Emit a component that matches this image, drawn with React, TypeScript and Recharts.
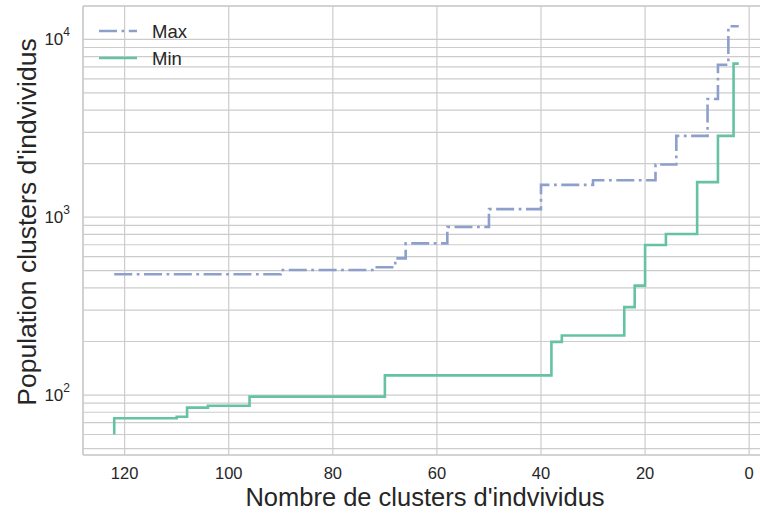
import React from "react";
import { LineChart, Line, XAxis, YAxis, CartesianGrid, ReferenceLine } from "recharts";

// Max series (dash-dot): step change points, x = number of clusters (descending)
const maxX = [122, 90, 72, 68, 66, 58, 50, 40, 30, 18, 14, 8, 6, 4, 2];
const maxY = [478, 478, 505, 523, 587, 712, 880, 1110, 1520, 1613, 1977, 2865, 4615, 7200, 11840];
// Min series (solid)
const minX = [122, 110, 108, 104, 96, 70, 38, 36, 24, 22, 20, 16, 10, 6, 3, 2];
const minY = [60, 74, 75.5, 85, 87, 98, 129, 199, 216, 312, 412, 698, 805, 1575, 2865, 7300];

const xTicks = [0, 20, 40, 60, 80, 100, 120];
const yTicks = [
  50, 60, 70, 80, 90, 100, 200, 300, 400, 500, 600, 700, 800, 900,
  1000, 2000, 3000, 4000, 5000, 6000, 7000, 8000, 9000, 10000,
];
const yMajor = [100, 1000, 10000];

const maxData = maxX.map((x, i) => ({ x, y: maxY[i] }));
const minData = minX.map((x, i) => ({ x, y: minY[i] }));

const FONT = "'Liberation Sans', Arial, sans-serif";
const TEXT = "#262626";
const GRID = "#cccccc";
const BLUE = "#8da0cb";
const GREEN = "#66c2a5";
const DASHDOT = "18 4.5 2.8 4.5";

const XTick = (props: any) => {
  const { x, payload } = props;
  return (
    <text x={x} y={473} textAnchor="middle" dominantBaseline="central" fontSize={16.5} fill={TEXT} fontFamily={FONT}>
      {payload.value}
    </text>
  );
};

const YTick = (props: any) => {
  const { y, payload } = props;
  if (!yMajor.includes(payload.value)) return null;
  const exp = Math.round(Math.log10(payload.value));
  return (
    <text x={70} y={y + 6} textAnchor="end" fontSize={17} fill={TEXT} fontFamily={FONT}>
      10
      <tspan dy={-9} fontSize={12}>{exp}</tspan>
    </text>
  );
};

export default function App() {
  return (
    <div style={{ position: "absolute", left: 0, top: 0, width: 760, height: 513, overflow: "hidden", background: "#fff" }}>
      <LineChart width={770} height={513} margin={{ top: 6, right: 0, bottom: 0, left: 0 }}>
        <CartesianGrid stroke={GRID} strokeWidth={1.2} horizontal vertical />
        <XAxis
          type="number"
          dataKey="x"
          domain={[-4, 128]}
          reversed
          allowDataOverflow
          ticks={xTicks}
          tick={<XTick />}
          tickLine={false}
          axisLine={{ stroke: GRID, strokeWidth: 1.5 }}
          height={58}
          interval={0}
        />
        <YAxis
          type="number"
          scale="log"
          domain={[46, 15400]}
          allowDataOverflow
          ticks={yTicks}
          tick={<YTick />}
          tickLine={false}
          axisLine={{ stroke: GRID, strokeWidth: 1.5 }}
          width={83}
          interval={0}
        />
        <ReferenceLine y={15400} stroke={GRID} strokeWidth={1.5} ifOverflow="visible" />
        <Line
          data={maxData}
          dataKey="y"
          name="Max"
          type="stepBefore"
          stroke={BLUE}
          strokeWidth={2.6}
          strokeDasharray={DASHDOT}
          dot={false}
          activeDot={false}
          isAnimationActive={false}
        />
        <Line
          data={minData}
          dataKey="y"
          name="Min"
          type="stepBefore"
          stroke={GREEN}
          strokeWidth={2.6}
          dot={false}
          activeDot={false}
          isAnimationActive={false}
        />
      </LineChart>
      <div style={{ position: "absolute", left: 0, top: 0, width: 760, height: 513, pointerEvents: "none" }}>
        <svg width={760} height={513}>
          <line x1={99} x2={137} y1={31} y2={31} stroke={BLUE} strokeWidth={2.6} strokeDasharray={DASHDOT} />
          <text x={152} y={31} dominantBaseline="central" fontSize={18.5} fill={TEXT} fontFamily={FONT}>Max</text>
          <line x1={99} x2={137} y1={58} y2={58} stroke={GREEN} strokeWidth={2.6} />
          <text x={152} y={58} dominantBaseline="central" fontSize={18.5} fill={TEXT} fontFamily={FONT}>Min</text>
          <text x={425} y={497} textAnchor="middle" dominantBaseline="central" fontSize={25.5} fill={TEXT} fontFamily={FONT}>
            Nombre de clusters d'indvividus
          </text>
          <text
            transform="translate(27,222) rotate(-90)"
            textAnchor="middle"
            dominantBaseline="central"
            fontSize={26.5}
            fill={TEXT}
            fontFamily={FONT}
          >
            Population clusters d'indvividus
          </text>
        </svg>
      </div>
    </div>
  );
}
